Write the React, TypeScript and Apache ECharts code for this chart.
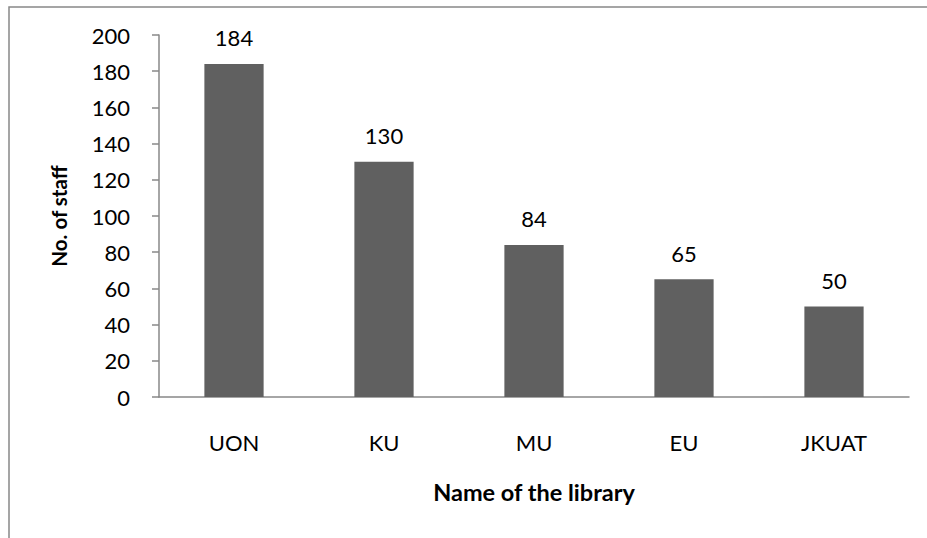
import React, { useEffect, useRef } from "react";
import * as echarts from "echarts";

const categories = ["UON", "KU", "MU", "EU", "JKUAT"];
const staffCounts = [184, 130, 84, 65, 50];
const yTitle = "No. of staff";
const xTitle = "Name of the library";

export default function App() {
  const ref = useRef<HTMLDivElement>(null);
  useEffect(() => {
    document.body.style.margin = "0";
    const chart = echarts.init(ref.current!, null, { renderer: "svg" });
    const font = "Lato, 'Open Sans', sans-serif";
    chart.setOption({
      animation: false,
      backgroundColor: "#ffffff",
      textStyle: { fontFamily: font },
      graphic: [
        {
          type: "rect",
          shape: { x: 9, y: 7, width: 1000, height: 600 },
          style: { fill: "none", stroke: "#888888", lineWidth: 1.5 },
          silent: true,
        },
      ],
      grid: { left: 159, right: 18, top: 35, bottom: 141 },
      xAxis: {
        type: "category",
        data: categories,
        name: xTitle,
        nameLocation: "middle",
        nameGap: 83,
        nameTextStyle: { fontSize: 23.5, fontWeight: "bold", color: "#000", fontFamily: font },
        axisLine: { show: true, lineStyle: { color: "#888888", width: 1.5 } },
        axisTick: { show: false },
        axisLabel: { margin: 34, fontSize: 22, color: "#000", fontFamily: font },
        splitLine: { show: false },
      },
      yAxis: {
        type: "value",
        min: 0,
        max: 200,
        interval: 20,
        name: yTitle,
        nameLocation: "middle",
        nameRotate: 90,
        nameGap: 90,
        nameTextStyle: { fontSize: 20.5, fontWeight: "bold", color: "#000", fontFamily: font },
        axisLine: { show: true, lineStyle: { color: "#888888", width: 1.5 } },
        axisTick: { show: true, inside: false, length: 7, lineStyle: { color: "#888888", width: 1.5 } },
        axisLabel: { margin: 29, fontSize: 22, color: "#000", fontFamily: font },
        splitLine: { show: false },
      },
      series: [
        {
          type: "bar",
          data: staffCounts,
          barWidth: "39.5%",
          itemStyle: { color: "#606060" },
          label: {
            show: true,
            position: "top",
            distance: 15,
            fontSize: 22,
            color: "#000",
            fontFamily: font,
          },
        },
      ],
    });
    return () => chart.dispose();
  }, []);
  return (
    <div
      ref={ref}
      style={{ position: "fixed", left: 0, top: 0, width: 927, height: 538 }}
    />
  );
}
